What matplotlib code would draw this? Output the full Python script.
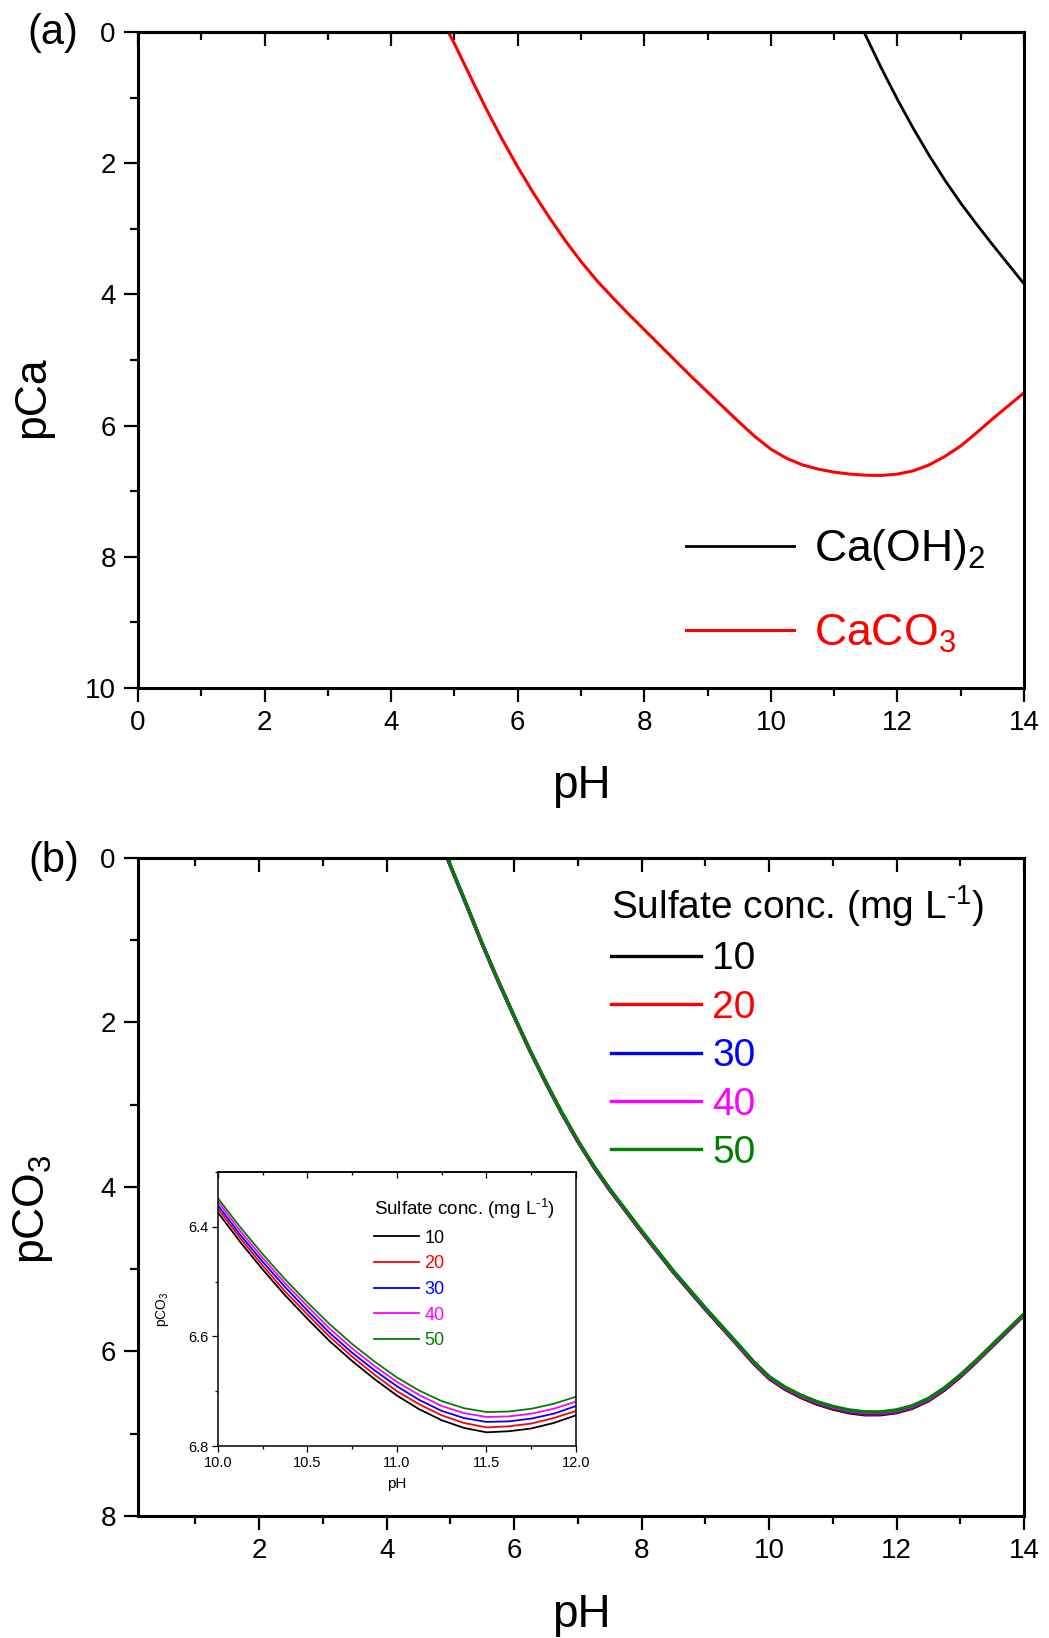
import matplotlib

matplotlib.use("Agg")
import matplotlib.pyplot as plt
from matplotlib.ticker import MultipleLocator, NullFormatter, FormatStrFormatter

plt.rcParams["font.family"] = ["Liberation Sans", "DejaVu Sans"]
plt.rcParams["mathtext.fontset"] = "custom"
plt.rcParams["mathtext.rm"] = "Liberation Sans"

# ---- panel (a): pCa vs pH ----
ph_caoh2 = [11.47, 11.75, 12.0, 12.25, 12.5, 12.75, 13.0, 13.25, 13.5, 13.75, 14.0]
pca_caoh2 = [0.0, 0.56, 1.03, 1.47, 1.88, 2.26, 2.61, 2.93, 3.24, 3.54, 3.84]

ph_caco3 = [4.9, 5.0, 5.25, 5.5, 5.75, 6.0, 6.25, 6.5, 6.75, 7.0, 7.25, 7.5, 7.75,
            8.0, 8.25, 8.5, 8.75, 9.0, 9.25, 9.5, 9.75, 10.0, 10.25, 10.5, 10.75,
            11.0, 11.25, 11.5, 11.75, 12.0, 12.25, 12.5, 12.75, 13.0, 13.25, 13.5,
            13.75, 14.0]
pca_caco3 = [0.0, 0.18, 0.68, 1.17, 1.63, 2.06, 2.46, 2.83, 3.18, 3.50, 3.79, 4.05, 4.30,
             4.54, 4.78, 5.02, 5.26, 5.49, 5.72, 5.95, 6.17, 6.36, 6.50, 6.60, 6.665,
             6.71, 6.74, 6.757, 6.76, 6.74, 6.69, 6.60, 6.47, 6.31, 6.11, 5.90,
             5.70, 5.50]

# ---- panel (b): pCO3 vs pH for sulfate concentrations ----
sulfate_labels = ["10", "20", "30", "40", "50"]
sulfate_colors = ["black", "red", "blue", "magenta", "green"]

ph_b = [4.95, 5.25, 5.5, 5.75, 6.0, 6.25, 6.5, 6.75, 7.0, 7.25, 7.5, 8.0, 8.5, 9.0,
        9.5, 9.75, 10.0, 10.25, 10.5, 10.75, 11.0, 11.25, 11.5, 11.75, 12.0, 12.25,
        12.5, 12.75, 13.0, 13.25, 13.5, 13.75, 14.0]
pco3_10 = [0.00, 0.57, 1.05, 1.50, 1.93, 2.35, 2.74, 3.11, 3.45, 3.76, 4.04, 4.55, 5.04,
           5.49, 5.92, 6.14, 6.33, 6.46, 6.56, 6.64, 6.70, 6.745, 6.77, 6.769, 6.744,
           6.69, 6.60, 6.47, 6.31, 6.13, 5.94, 5.75, 5.56]
pco3_20 = [0.00, 0.568, 1.048, 1.498, 1.928, 2.347, 2.737, 3.106, 3.446, 3.756, 4.036,
           4.545, 5.035, 5.485, 5.915, 6.134, 6.324, 6.453, 6.553, 6.632, 6.692, 6.736,
           6.761, 6.760, 6.736, 6.682, 6.593, 6.463, 6.304, 6.124, 5.935, 5.745, 5.556]
pco3_30 = [0.00, 0.565, 1.045, 1.495, 1.925, 2.344, 2.733, 3.103, 3.442, 3.752, 4.031,
           4.541, 5.030, 5.480, 5.909, 6.128, 6.317, 6.446, 6.545, 6.625, 6.684, 6.728,
           6.752, 6.752, 6.727, 6.674, 6.585, 6.456, 6.297, 6.118, 5.929, 5.740, 5.551]
pco3_40 = [0.00, 0.563, 1.043, 1.493, 1.923, 2.341, 2.730, 3.099, 3.438, 3.747, 4.027,
           4.536, 5.025, 5.474, 5.904, 6.122, 6.311, 6.439, 6.538, 6.617, 6.675, 6.719,
           6.742, 6.743, 6.719, 6.666, 6.578, 6.449, 6.291, 6.112, 5.924, 5.735, 5.547]
pco3_50 = [0.00, 0.56, 1.04, 1.49, 1.92, 2.338, 2.726, 3.095, 3.434, 3.743, 4.022, 4.531,
           5.020, 5.469, 5.898, 6.116, 6.304, 6.432, 6.530, 6.609, 6.667, 6.710, 6.733,
           6.734, 6.710, 6.658, 6.570, 6.442, 6.284, 6.106, 5.918, 5.730, 5.542]

# inset (zoom of the minimum)
ph_inset = [10.0, 10.125, 10.25, 10.375, 10.5, 10.625, 10.75, 10.875, 11.0, 11.125,
            11.25, 11.375, 11.5, 11.625, 11.75, 11.875, 12.0]
inset_10 = [6.374, 6.428, 6.478, 6.525, 6.568, 6.609, 6.645, 6.678, 6.708, 6.733,
            6.753, 6.767, 6.775, 6.773, 6.768, 6.758, 6.744]
inset_20 = [6.367, 6.421, 6.471, 6.518, 6.560, 6.601, 6.637, 6.670, 6.700, 6.724,
            6.744, 6.758, 6.766, 6.764, 6.759, 6.749, 6.736]
inset_30 = [6.361, 6.415, 6.464, 6.510, 6.553, 6.594, 6.630, 6.662, 6.691, 6.716,
            6.736, 6.749, 6.756, 6.755, 6.750, 6.741, 6.727]
inset_40 = [6.354, 6.408, 6.457, 6.503, 6.545, 6.586, 6.622, 6.654, 6.683, 6.707,
            6.727, 6.740, 6.747, 6.746, 6.741, 6.732, 6.719]
inset_50 = [6.348, 6.401, 6.450, 6.496, 6.538, 6.578, 6.614, 6.646, 6.675, 6.699,
            6.718, 6.731, 6.738, 6.737, 6.732, 6.723, 6.710]

SULFATE_TITLE = r"Sulfate conc. (mg L$^{\text{-1}}$)"


def style_axes(ax, xmaj, xmin, ymaj, ymin, labelsize, major_len, minor_len, tick_w, spine_w, pad):
    ax.xaxis.set_major_locator(MultipleLocator(xmaj))
    ax.xaxis.set_minor_locator(MultipleLocator(xmin))
    ax.yaxis.set_major_locator(MultipleLocator(ymaj))
    ax.yaxis.set_minor_locator(MultipleLocator(ymin))
    for s in ax.spines.values():
        s.set_linewidth(spine_w)
    ax.tick_params(which="both", direction="out", top=False, right=False,
                   width=tick_w, labelsize=labelsize, pad=pad)
    ax.tick_params(which="major", length=major_len)
    ax.tick_params(which="minor", length=minor_len)
    # top axis carries inward ticks only
    top = ax.secondary_xaxis("top")
    top.xaxis.set_major_locator(MultipleLocator(xmaj))
    top.xaxis.set_minor_locator(MultipleLocator(xmin))
    top.xaxis.set_major_formatter(NullFormatter())
    top.tick_params(which="both", direction="in", width=tick_w)
    top.tick_params(which="major", length=major_len)
    top.tick_params(which="minor", length=minor_len)
    top.spines["top"].set_linewidth(spine_w)


fig = plt.figure(figsize=(10.49, 16.38), dpi=100)

# ---------------- (a) ----------------
ax_a = fig.add_axes([0.1316, 0.5800, 0.8446, 0.4005])
ax_a.plot(ph_caoh2, pca_caoh2, color="black", lw=2.0, label=r"Ca(OH)$_\mathregular{2}$")
ax_a.plot(ph_caco3, pca_caco3, color="red", lw=2.2, label=r"CaCO$_\mathregular{3}$")
ax_a.set_xlim(0, 14)
ax_a.set_ylim(10, 0)
style_axes(ax_a, 2, 1, 2, 1, 20, 10, 5.5, 1.6, 2.2, 6)
ax_a.set_xlabel("pH", fontsize=33, labelpad=20)
ax_a.set_ylabel("pCa", fontsize=32)
ax_a.yaxis.set_label_coords(-0.096, 0.444)
ax_a.legend(loc="upper left", bbox_to_anchor=(0.6185, 0.245), frameon=False,
            fontsize=32, handlelength=2.43, handletextpad=0.45, labelspacing=0.91,
            borderpad=0, borderaxespad=0, labelcolor="linecolor")
fig.text(0.026, 0.980, "(a)", fontsize=30, ha="left", va="center")

# ---------------- (b) ----------------
ax_b = fig.add_axes([0.1316, 0.0745, 0.8446, 0.4017])
series_b = [pco3_10, pco3_20, pco3_30, pco3_40, pco3_50]
for vals, lab, col in zip(series_b, sulfate_labels, sulfate_colors):
    ax_b.plot(ph_b, vals, color=col, lw=2.4, label=lab)
ax_b.set_xlim(0.1, 14)
ax_b.set_ylim(8, 0)
style_axes(ax_b, 2, 1, 2, 1, 20, 10, 5.5, 1.6, 2.2, 6)
ax_b.set_xlabel("pH", fontsize=33, labelpad=21)
ax_b.set_ylabel(r"pCO$_\mathregular{3}$", fontsize=32)
ax_b.yaxis.set_label_coords(-0.094, 0.467)
ax_b.legend(loc="upper left", bbox_to_anchor=(0.534, 0.962), frameon=False,
            fontsize=28, title=SULFATE_TITLE, title_fontsize=28, alignment="left",
            handlelength=2.3, handletextpad=0.3, labelspacing=0.32, borderpad=0,
            borderaxespad=0, labelcolor="linecolor")
fig.text(0.027, 0.4744, "(b)", fontsize=30, ha="left", va="center")

# ---------------- inset ----------------
ax_in = fig.add_axes([0.2078, 0.1172, 0.3413, 0.1673])
series_in = [inset_10, inset_20, inset_30, inset_40, inset_50]
for vals, lab, col in zip(series_in, sulfate_labels, sulfate_colors):
    ax_in.plot(ph_inset, vals, color=col, lw=1.3, label=lab)
ax_in.set_xlim(10, 12)
ax_in.set_ylim(6.8, 6.3)
style_axes(ax_in, 0.5, 0.25, 0.2, 0.1, 10.5, 4, 2.5, 0.9, 1.1, 3)
ax_in.xaxis.set_major_formatter(FormatStrFormatter("%.1f"))
ax_in.yaxis.set_major_formatter(FormatStrFormatter("%.1f"))
ax_in.set_xlabel("pH", fontsize=11, labelpad=5)
ax_in.set_ylabel(r"pCO$_\mathregular{3}$", fontsize=10, labelpad=12)
ax_in.legend(loc="upper left", bbox_to_anchor=(0.436, 0.912), frameon=False,
             fontsize=13, title=SULFATE_TITLE, title_fontsize=13.5, alignment="left",
             handlelength=2.5, handletextpad=0.28, labelspacing=0.48, borderpad=0,
             borderaxespad=0, labelcolor="linecolor")

fig.savefig("out.png", dpi=100)
